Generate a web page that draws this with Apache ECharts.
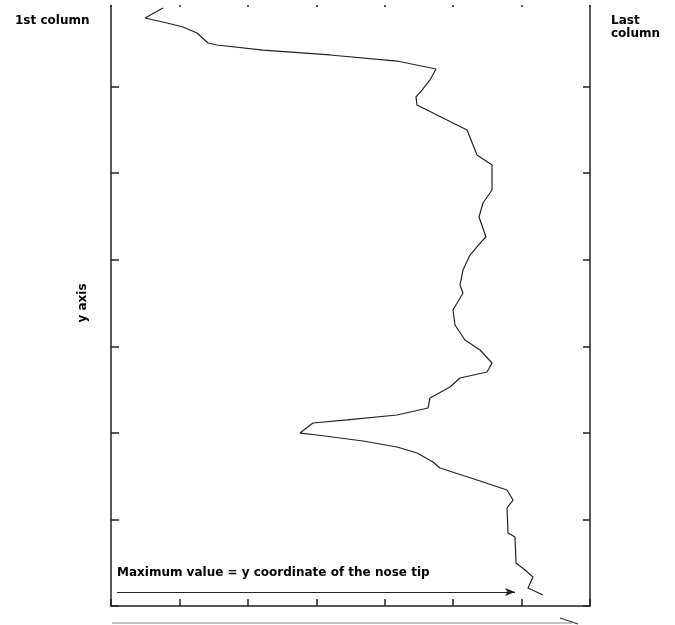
<!DOCTYPE html>
<html>
<head>
<meta charset="utf-8">
<script src="https://cdn.jsdelivr.net/npm/echarts@6/dist/echarts.min.js"></script>
<style>html,body{margin:0;padding:0;background:#fff}#c{width:675px;height:625px}</style>
</head>
<body>
<div id="c"></div>
<script>
// Profile: value (horizontal) for each row (vertical, top = first)
const profileValue = [76.0,49.7,81.8,105.2,125.7,141.8,154.9,222.1,320.0,418.0,475.0,466.2,454.5,445.7,447.2,456.0,491.0,520.3,534.9,556.8,556.8,543.6,537.8,548.0,543.6,524.6,514.4,510.0,514.4,499.8,502.7,517.3,539.3,556.8,549.5,510.0,495.4,466.2,463.3,418.0,344.9,295.2,276.2,301.0,368.3,418.0,447.2,470.6,480.8,534.9,578.7,587.5,578.7,580.2,590.4,591.9,605.0,616.7,609.4,631.3];
const rowIndex = [9.2,20.8,26.6,31.2,38.1,49.7,52.0,57.8,63.5,70.5,79.7,92.4,104.0,112.0,121.3,124.8,138.6,150.2,179.0,190.6,219.5,234.5,250.7,273.8,277.2,294.6,311.9,329.2,338.4,358.1,375.4,392.7,404.3,419.3,429.7,436.6,447.0,459.7,471.3,479.4,485.1,488.6,500.2,502.5,509.4,516.3,523.3,533.7,540.6,554.4,566.0,577.6,586.8,615.7,620.3,650.3,658.4,666.5,679.2,687.3];
const axisMax = 700;
const axisStep = 100;
const arrowRow = 683.8;
const arrowFrom = 8.8;
const arrowTo = 590.4;
const annotationText = 'Maximum value = y coordinate of the nose tip';

const chart = echarts.init(document.getElementById('c'), null, {renderer: 'canvas'});
const pts = profileValue.map((v, i) => [v, rowIndex[i]]);
const axisLineStyle = {color: '#222', width: 1.5};
const tickStyle = {color: '#222', width: 1.5};
const font = '"DejaVu Sans", Verdana, sans-serif';
const txt = {fontFamily: font, fontSize: 12, fontWeight: 'bold', color: '#000'};

chart.setOption({
  animation: false,
  backgroundColor: '#fff',
  grid: {left: 111, right: 85, top: 0, bottom: 19},
  title: [
    {text: '1st column', left: 15, top: 15, padding: 0, textStyle: txt},
    {text: 'Last\ncolumn', left: 611, top: 14, padding: 0, textStyle: Object.assign({}, txt, {lineHeight: 13})},
    {text: annotationText, left: 117, top: 567, padding: 0, textStyle: txt}
  ],
  xAxis: [
    {type: 'value', position: 'bottom', min: 0, max: axisMax, interval: axisStep,
     axisLine: {show: true, onZero: false, lineStyle: axisLineStyle},
     axisTick: {show: true, inside: true, length: 7, lineStyle: tickStyle},
     axisLabel: {show: false}, splitLine: {show: false}},
    {type: 'value', position: 'top', min: 0, max: axisMax, interval: axisStep,
     axisLine: {show: false, onZero: false},
     axisTick: {show: true, inside: true, length: 7, lineStyle: tickStyle},
     axisLabel: {show: false}, splitLine: {show: false}}
  ],
  yAxis: [
    {type: 'value', position: 'left', inverse: true, min: 0, max: axisMax, interval: axisStep,
     name: 'y axis', nameLocation: 'middle', nameRotate: 90, nameGap: 22,
     nameTextStyle: txt,
     axisLine: {show: true, onZero: false, lineStyle: axisLineStyle},
     axisTick: {show: true, inside: true, length: 8, lineStyle: tickStyle},
     axisLabel: {show: false}, splitLine: {show: false}},
    {type: 'value', position: 'right', inverse: true, min: 0, max: axisMax, interval: axisStep,
     axisLine: {show: true, onZero: false, lineStyle: axisLineStyle},
     axisTick: {show: true, inside: true, length: 7, lineStyle: tickStyle},
     axisLabel: {show: false}, splitLine: {show: false}}
  ],
  series: [{
    type: 'line',
    data: pts,
    showSymbol: false,
    lineStyle: {color: '#222', width: 1.2},
    markLine: {
      silent: true,
      symbol: ['none', 'arrow'],
      symbolSize: [6, 10],
      label: {show: false},
      lineStyle: {color: '#222', width: 1.2, type: 'solid'},
      data: [[{coord: [arrowFrom, arrowRow]}, {coord: [arrowTo, arrowRow]}]]
    }
  }],
  graphic: [
    {type: 'rect', shape: {x: 0, y: 0, width: 675, height: 5}, style: {fill: '#fff'}, z: 100},
    {type: 'line', shape: {x1: 112, y1: 623, x2: 572, y2: 623}, style: {stroke: '#888', lineWidth: 1.2}, z: 10},
    {type: 'line', shape: {x1: 560, y1: 618, x2: 578, y2: 624}, style: {stroke: '#333', lineWidth: 1.2}, z: 10}
  ]
});
</script>
</body>
</html>
